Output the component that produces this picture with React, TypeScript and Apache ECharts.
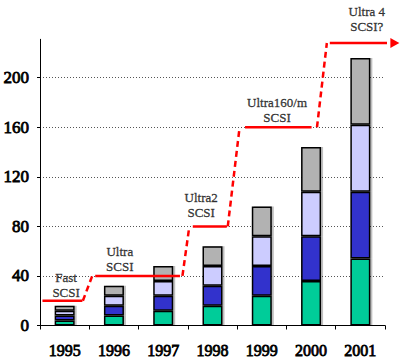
import React, { useEffect, useRef } from "react";
import * as echarts from "echarts";

const years = ["1995", "1996", "1997", "1998", "1999", "2000", "2001"];
const seg1 = [4, 8, 12, 16, 24, 36, 54];
const seg2 = [4, 8, 12, 16, 24, 36, 54];
const seg3 = [4, 8, 12, 16, 24, 36, 54];
const seg4 = [4, 8, 12, 16, 24, 36, 54];
const segColors = ["#00CC99", "#3333CC", "#CCCCFF", "#B2B2B2"];

const stepNames = ["Fast\nSCSI", "Ultra\nSCSI", "Ultra2\nSCSI", "Ultra160/m\nSCSI", "Ultra 4\nSCSI?"];
const stepLevels = [20, 40, 80, 160, 228];
const stepStart = [0.05, 1.12, 3.1, 4.16, 5.88];
const stepEnd = [0.86, 2.84, 3.79, 5.51, 7.2];
const jumpFromX = [0.87, 2.89, 3.81, 5.62];
const jumpToX = [1.06, 3.03, 4.05, 5.82];
const labelX = [0.53, 1.62, 3.27, 4.81, 6.63];
const labelY = [33, 54, 97, 174, 247];

const serif = "Tinos, Times New Roman, Liberation Serif, DejaVu Serif";

export default function App() {
  const ref = useRef<HTMLDivElement>(null);
  useEffect(() => {
    const chart = echarts.init(ref.current!, null, { renderer: "svg" });
    const segs = [seg1, seg2, seg3, seg4];
    const barSeries = segs.map((d, i) => ({
      type: "bar",
      stack: "total",
      data: d,
      barWidth: 20,
      z: 3,
      itemStyle: {
        color: segColors[i],
        borderColor: "#000",
        borderWidth: 1.5,
        shadowColor: "rgba(0,0,0,0.25)",
        shadowOffsetX: 2,
        shadowBlur: 0,
      },
    }));
    const stepSeries = stepLevels.map((lv, i) => {
      const last = i === stepLevels.length - 1;
      return {
        type: "line",
        xAxisIndex: 1,
        yAxisIndex: 1,
        clip: false,
        z: 5,
        lineStyle: { color: "#FF0000", width: 2.5 },
        itemStyle: { color: "#FF0000" },
        data: [
          { value: [stepStart[i], lv], symbol: "none" },
          last
            ? { value: [stepEnd[i], lv], symbol: "triangle", symbolSize: [10, 9], symbolRotate: -90 }
            : { value: [stepEnd[i], lv], symbol: "none" },
        ],
        showSymbol: true,
      };
    });
    const jumpSeries = jumpFromX.map((x0, i) => ({
      type: "line",
      xAxisIndex: 1,
      yAxisIndex: 1,
      clip: false,
      z: 5,
      symbol: "none",
      lineStyle: { color: "#FF0000", width: 2.5, type: [6, 4] },
      data: [
        [x0, stepLevels[i]],
        [jumpToX[i], stepLevels[i + 1]],
      ],
    }));
    const labelSeries = {
      type: "scatter",
      xAxisIndex: 1,
      yAxisIndex: 1,
      clip: false,
      symbolSize: 0,
      z: 6,
      data: stepNames.map((n, i) => ({ name: n, value: [labelX[i], labelY[i]] })),
      label: {
        show: true,
        position: "inside",
        formatter: (p: any) => p.name,
        fontFamily: serif,
        fontWeight: "normal",
        fontSize: 13,
        lineHeight: 15,
        color: "#111",
        textBorderColor: "#111",
        textBorderWidth: 0.35,
        align: "center",
      },
    };
    chart.setOption({
      animation: false,
      textStyle: { fontFamily: serif },
      grid: { left: 40, right: 15, top: 39.3, bottom: 35.5, containLabel: false },
      xAxis: [
        {
          type: "category",
          data: years,
          axisLine: { lineStyle: { color: "#000", width: 1 } },
          axisTick: { show: true, length: 4, lineStyle: { color: "#000" } },
          axisLabel: {
            fontFamily: serif,
            fontWeight: "normal",
            fontSize: 16,
            color: "#000",
            textBorderColor: "#000",
            textBorderWidth: 0.8,
            margin: 17,
            interval: 0,
          },
        },
        { type: "value", min: 0, max: 7, show: false },
      ],
      yAxis: [
        {
          type: "value",
          min: 0,
          max: 231,
          interval: 40,
          axisLine: { show: true, lineStyle: { color: "#000", width: 1 } },
          axisTick: { show: true, length: 3, lineStyle: { color: "#000" } },
          axisLabel: {
            fontFamily: serif,
            fontWeight: "normal",
            fontSize: 17,
            color: "#000",
            textBorderColor: "#000",
            textBorderWidth: 0.8,
            margin: 11,
            showMaxLabel: false,
          },
          splitLine: {
            show: true,
            lineStyle: {
              type: [1, 2],
              width: 1,
              color: ["transparent", "#555", "#555", "#555", "#555", "#555", "transparent"],
            },
          },
        },
        { type: "value", min: 0, max: 231, show: false },
      ],
      series: [...barSeries, ...stepSeries, ...jumpSeries, labelSeries],
    });
    return () => chart.dispose();
  }, []);
  return <div ref={ref} style={{ width: 400, height: 361, position: "absolute", left: 0, top: 0 }} />;
}
